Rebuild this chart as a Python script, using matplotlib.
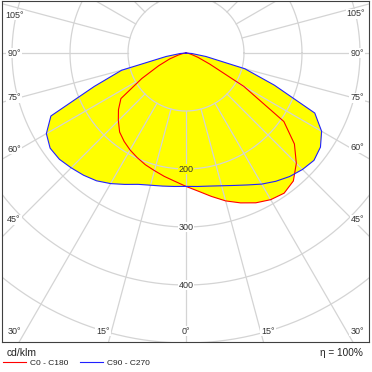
import matplotlib
matplotlib.use("Agg")
import matplotlib.pyplot as plt
import numpy as np

plt.rcParams["font.family"] = ["Liberation Sans", "DejaVu Sans"]

# luminous intensity in cd/klm, gamma 0..90 step 5
gamma = [0, 5, 10, 15, 20, 25, 30, 35, 40, 45, 50, 55, 60, 65, 70, 75, 80, 85, 90]
c0 = [230, 239, 251, 264, 275, 285, 292, 295, 288, 269, 244, 206, 115, 45, 22, 10, 5, 2, 0]
c180 = [230, 222, 216, 210, 205, 199, 193, 186, 178, 165, 152, 137, 88, 52, 30, 14, 6, 2, 0]
c90 = [230, 231, 233, 237, 243, 251, 261, 270, 278, 284, 288, 283, 270, 245, 162, 105, 35, 10, 0]
c270 = [230, 231, 233, 236, 241, 250, 260, 269, 275, 280, 285, 286, 278, 257, 168, 115, 35, 10, 0]

ring_values = [100, 200, 300, 400, 500, 600]
ring_labels = [200, 300, 400]
spoke_angles = np.arange(0, 360, 15)
angle_labels = ["105°", "90°", "75°", "60°", "45°", "30°", "15°", "0°",
                "15°", "30°", "45°", "60°", "75°", "90°", "105°"]
# label positions in pixels (x, y from top)
angle_label_pos = [(15, 15), (14, 53), (14, 98), (14, 149), (14, 220), (14, 331),
                   (103, 331), (186, 331), (268, 331), (357, 331), (358, 220),
                   (357, 148), (357, 98), (357, 53), (356, 14)]

W = 372
scale = 0.58  # px per cd/klm
cx, cy = 186, 53


def half_curve(g, vals, side):
    g = np.radians(g)
    v = np.array(vals, dtype=float)
    return side * v * np.sin(g), -v * np.cos(g)


def full_curve(right, left):
    xr, yr = half_curve(gamma, right, 1)
    xl, yl = half_curve(gamma, left, -1)
    x = np.concatenate([xl[::-1], xr[1:]])
    y = np.concatenate([yl[::-1], yr[1:]])
    return x, y


fig = plt.figure(figsize=(W / 100, W / 100), dpi=100)
ax = fig.add_axes([2 / W, 30 / W, 367 / W, 341 / W])
ax.set_xlim((2 - cx) / scale, (369 - cx) / scale)
ax.set_ylim(-(342 - cy) / scale, (cy - 1) / scale)

x_red, y_red = full_curve(c0, c180)
x_blue, y_blue = full_curve(c90, c270)

ax.fill(x_blue, y_blue, color="#ffff00", lw=0, zorder=1)
ax.fill(x_red, y_red, color="#ffff00", lw=0, zorder=1)

# grid
grid_col = "#d4d4d4"
t = np.linspace(0, 2 * np.pi, 400)
for r in ring_values:
    ax.plot(r * np.cos(t), r * np.sin(t), color=grid_col, lw=0.9, zorder=2)
for a in spoke_angles:
    ar = np.radians(a)
    ax.plot([100 * np.sin(ar), 900 * np.sin(ar)], [-100 * np.cos(ar), -900 * np.cos(ar)],
            color=grid_col, lw=0.9, zorder=2)

ax.plot(x_red, y_red, color="#ff0000", lw=0.8, zorder=3, label="C0 - C180")
ax.plot(x_blue, y_blue, color="#2020ff", lw=0.8, zorder=4, label="C90 - C270")

for r in ring_labels:
    bg = "#ffff00" if r < min(c0[0], c90[0]) else "white"
    ax.text(0, -r, str(r), ha="center", va="center", fontsize=6.5, color="#333333",
            bbox=dict(boxstyle="square,pad=0.1", fc=bg, ec="none"), zorder=5)

for lab, (px, py) in zip(angle_labels, angle_label_pos):
    fig.text(px / W, 1 - py / W, lab, ha="center", va="center", fontsize=6.5,
             color="#333333", bbox=dict(boxstyle="square,pad=0.1", fc="white", ec="none"))

ax.set_xticks([])
ax.set_yticks([])
for s in ax.spines.values():
    s.set_color("#404040")
    s.set_linewidth(0.8)

fig.text(7 / W, 1 - 353 / W, "cd/klm", ha="left", va="center", fontsize=7.4, color="#222222")
fig.text(363 / W, 1 - 353 / W, "η = 100%", ha="right", va="center", fontsize=7.2, color="#222222")

fig.legend(loc="upper left", bbox_to_anchor=(3 / W, 1 - 359 / W), ncol=2, frameon=False,
           fontsize=6, handlelength=2.8, handletextpad=0.5, columnspacing=1.3,
           borderpad=0, borderaxespad=0, labelcolor="#222222")

fig.savefig("out.png", dpi=100)
